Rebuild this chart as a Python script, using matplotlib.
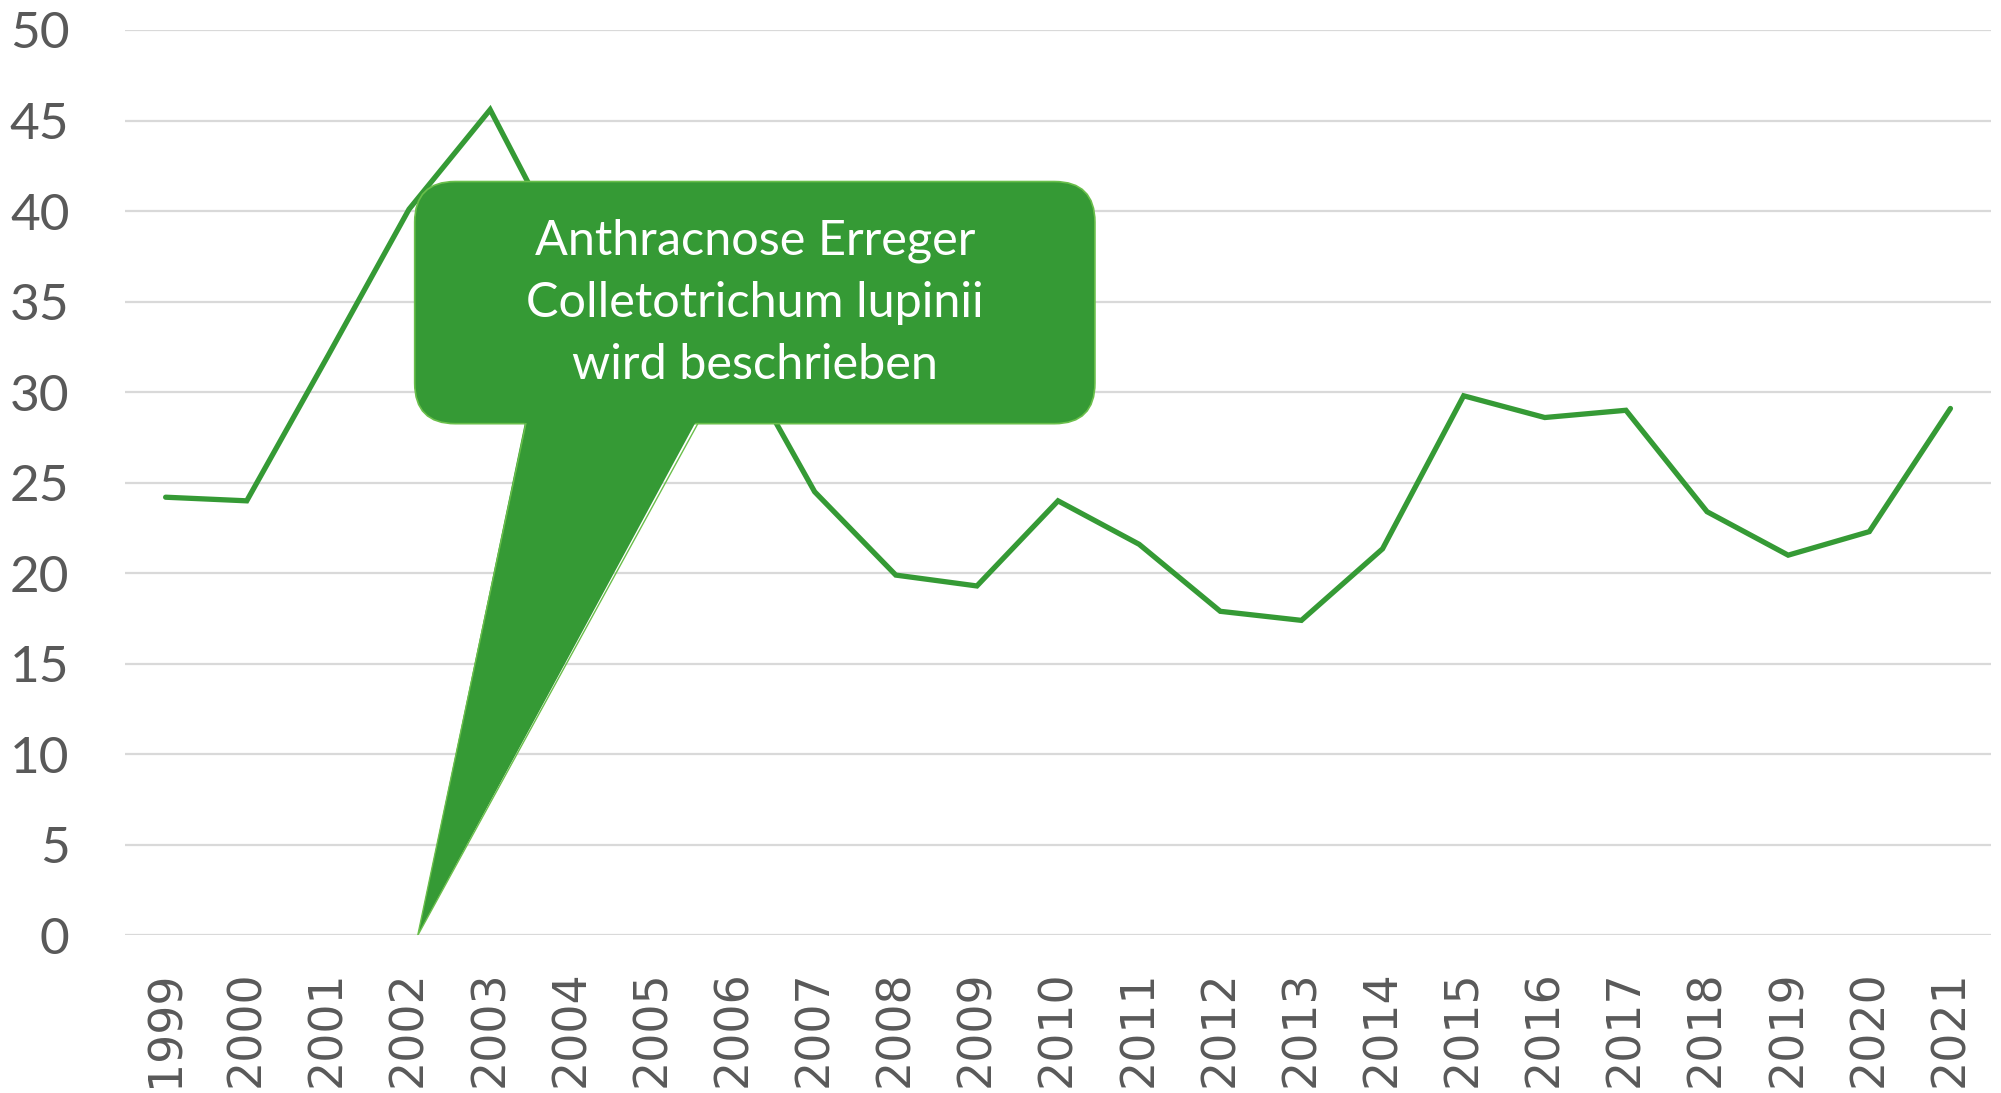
import matplotlib
matplotlib.use('Agg')
import matplotlib.pyplot as plt
from matplotlib.patches import FancyBboxPatch, Polygon

years = ['1999', '2000', '2001', '2002', '2003', '2004', '2005', '2006', '2007', '2008', '2009', '2010',
         '2011', '2012', '2013', '2014', '2015', '2016', '2017', '2018', '2019', '2020', '2021']
values = [24.2, 24.0, 32.0, 40.1, 45.6, 37.0, 35.5, 32.5, 24.5, 19.9, 19.3, 24.0,
          21.6, 17.9, 17.4, 21.35, 29.8, 28.6, 29.0, 23.4, 21.0, 22.3, 29.1]
y_ticks = [0, 5, 10, 15, 20, 25, 30, 35, 40, 45, 50]
note = 'Anthracnose Erreger\nColletotrichum lupinii\nwird beschrieben'

green = '#359a35'
grey = '#595959'

fig = plt.figure(figsize=(20.01, 10.93), dpi=100)
ax = fig.add_axes([0.0625, 0.1441, 0.9325, 0.8285])

x = list(range(len(years)))
ax.plot(x, values, color=green, lw=3.8, solid_capstyle='round', solid_joinstyle='miter', zorder=3)

ax.set_xlim(-0.5, len(years) - 0.5)
ax.set_ylim(0, 50)
ax.set_yticks(y_ticks)
ax.set_yticklabels([str(v) for v in y_ticks], fontfamily='Lato', fontsize=37, color=grey)
ax.set_xticks(x)
ax.set_xticklabels(years, rotation=90, fontfamily='DejaVu Sans', fontsize=33, color=grey, va='top')
ax.tick_params(axis='y', length=0, pad=40)
ax.tick_params(axis='x', length=0, pad=25)
ax.grid(axis='y', color='#d9d9d9', lw=1.6, zorder=0)
for s in ax.spines.values():
    s.set_visible(False)

# callout box (data units: x = category index, y = value)
bx0, bx1 = 3.07, 11.455
by0, by1 = 28.26, 41.63
box = FancyBboxPatch((bx0, by0), bx1 - bx0, by1 - by0,
                     boxstyle='round,pad=0,rounding_size=0.5', mutation_aspect=81.1 / 18.1,
                     facecolor=green, edgecolor='#6abf4b', lw=1.2, zorder=5, clip_on=False)
ax.add_patch(box)
tail = Polygon([(4.44, by0 + 0.3), (3.107, 0), (6.56, by0 + 0.3)], closed=True,
               facecolor=green, edgecolor='none', zorder=6, clip_on=False)
ax.add_patch(tail)
ax.plot([4.44, 3.107, 6.56], [by0, 0, by0], color='#6abf4b', lw=1.0, zorder=6)

ax.text((bx0 + bx1) / 2, (by0 + by1) / 2, note, ha='center', va='center', color='white',
        fontfamily='Lato', fontsize=35, linespacing=1.5, zorder=7)

fig.savefig('out.png', dpi=100)
